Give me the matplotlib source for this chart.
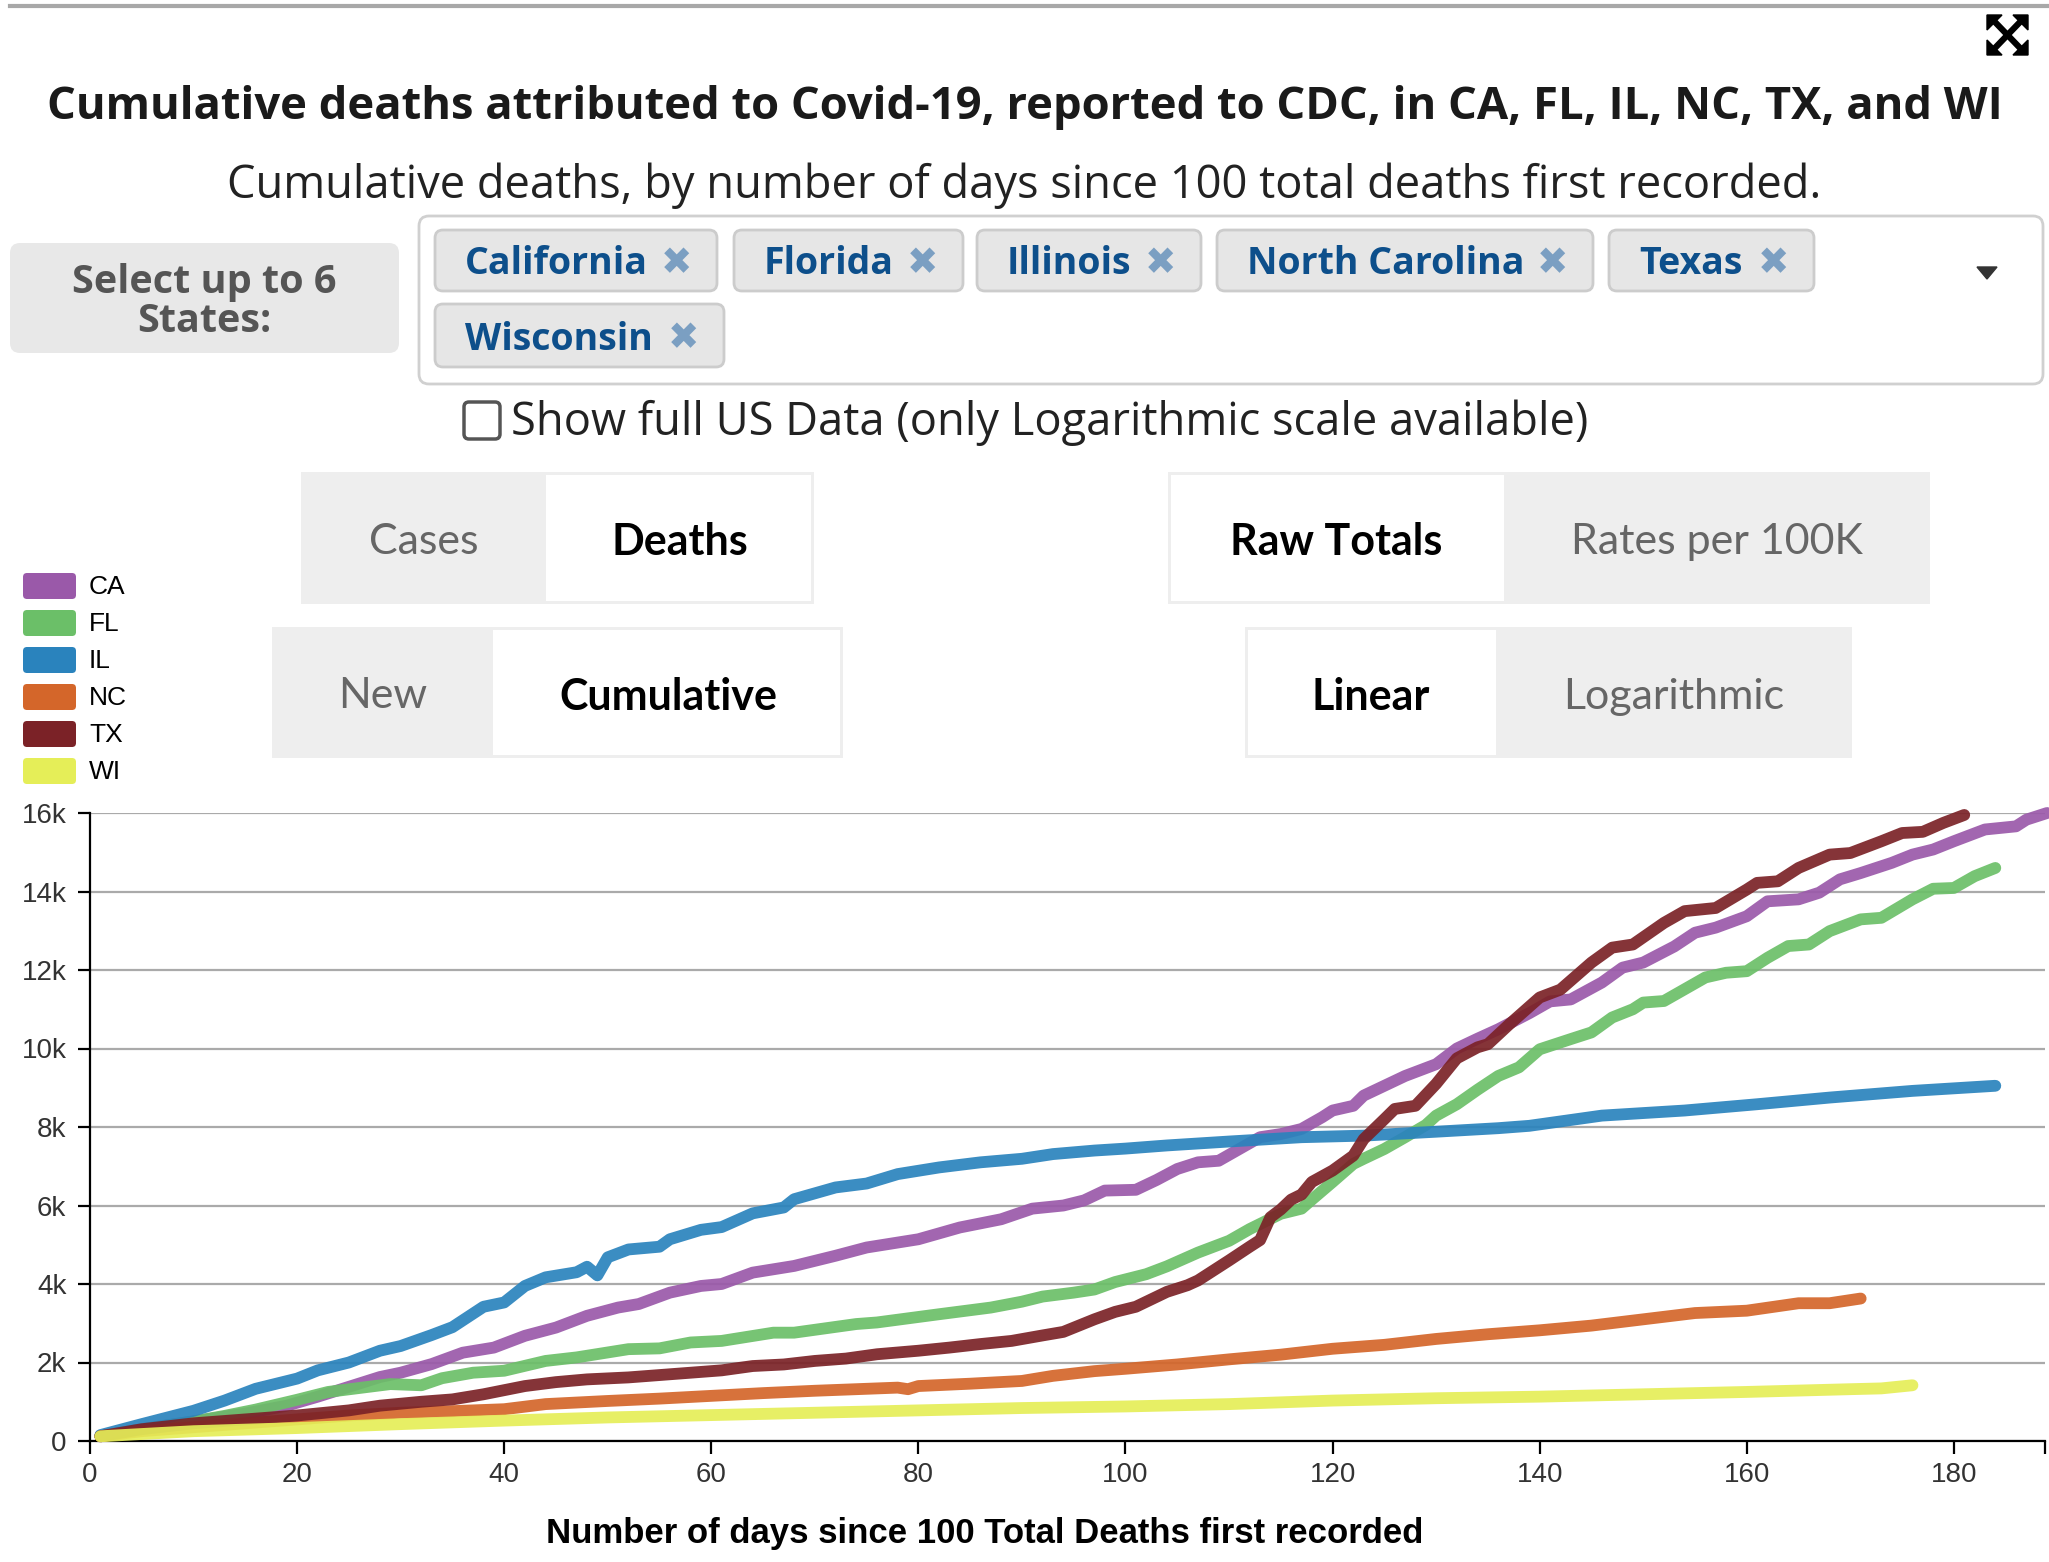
import matplotlib
matplotlib.use("Agg")
import matplotlib.pyplot as plt
from matplotlib.patches import FancyBboxPatch, Polygon, Rectangle
from matplotlib.ticker import FuncFormatter

# -----------------------------
# Data (cumulative deaths, thousands)
# -----------------------------
states = ["CA", "FL", "IL", "NC", "TX", "WI"]
state_names = ["California", "Florida", "Illinois", "North Carolina", "Texas", "Wisconsin"]
colors = ["#9a59a9", "#6bbf68", "#2a83bd", "#d4662a", "#7b2227", "#e5ee58"]

ca_days = [1, 5, 10, 15, 19, 22, 25, 28, 30, 33, 36, 39, 42, 45, 48, 51, 53, 56, 59, 61,
           64, 68, 72, 75, 80, 84, 88, 91, 94, 96, 98, 101, 103, 105, 107, 109, 111, 113, 115, 117,
           119, 120, 122, 123, 125, 127, 130, 132, 134, 136, 139, 141, 143, 146, 148, 150, 153, 155, 157, 160,
           162, 165, 167, 169, 171, 174, 176, 178, 180, 183, 186, 187, 189]
ca_k = [0.12, 0.3, 0.5, 0.7, 0.9, 1.13, 1.38, 1.63, 1.74, 1.96, 2.25, 2.38, 2.68, 2.89, 3.19, 3.4, 3.49, 3.78, 3.95, 4.0,
        4.29, 4.46, 4.72, 4.93, 5.14, 5.44, 5.65, 5.92, 6.0, 6.13, 6.38, 6.4, 6.65, 6.93, 7.1, 7.14, 7.44, 7.74, 7.82, 7.95,
        8.25, 8.42, 8.54, 8.8, 9.05, 9.3, 9.6, 10.0, 10.25, 10.49, 10.9, 11.2, 11.25, 11.68, 12.06, 12.19, 12.6, 12.95, 13.08, 13.37,
        13.75, 13.8, 13.97, 14.31, 14.47, 14.73, 14.94, 15.07, 15.28, 15.58, 15.66, 15.83, 16.0]

fl_days = [1, 5, 10, 13, 16, 20, 23, 26, 29, 32, 34, 37, 40, 44, 47, 52, 55, 58, 61, 66,
           68, 74, 76, 82, 87, 90, 92, 95, 97, 99, 102, 104, 107, 110, 112, 115, 117, 118, 120, 122,
           123, 125, 127, 129, 130, 132, 134, 136, 138, 140, 143, 145, 147, 149, 150, 152, 154, 156, 158, 160,
           162, 164, 166, 168, 171, 173, 176, 178, 180, 182, 184]
fl_k = [0.12, 0.3, 0.5, 0.64, 0.8, 1.05, 1.25, 1.35, 1.45, 1.42, 1.6, 1.74, 1.79, 2.04, 2.13, 2.34, 2.36, 2.51, 2.55, 2.76,
        2.76, 2.98, 3.02, 3.23, 3.4, 3.55, 3.68, 3.78, 3.86, 4.05, 4.25, 4.45, 4.8, 5.1, 5.4, 5.79, 5.92, 6.15, 6.6, 7.06,
        7.19, 7.44, 7.74, 8.05, 8.29, 8.58, 8.95, 9.3, 9.52, 9.98, 10.24, 10.41, 10.79, 11.0, 11.17, 11.21, 11.51, 11.81, 11.93, 11.97,
        12.31, 12.61, 12.65, 12.99, 13.29, 13.33, 13.8, 14.07, 14.09, 14.39, 14.6]

il_days = [1, 5, 10, 13, 16, 20, 22, 25, 28, 30, 33, 35, 38, 40, 42, 44, 47, 48, 49, 50,
           52, 55, 56, 59, 61, 64, 67, 68, 72, 75, 78, 82, 86, 90, 93, 97, 100, 104, 110, 117,
           123, 130, 136, 139, 146, 154, 161, 168, 176, 184]
il_k = [0.15, 0.43, 0.77, 1.03, 1.33, 1.59, 1.8, 2.0, 2.3, 2.42, 2.7, 2.9, 3.42, 3.53, 3.95, 4.17, 4.3, 4.44, 4.22, 4.68,
        4.88, 4.95, 5.14, 5.38, 5.45, 5.8, 5.95, 6.16, 6.46, 6.56, 6.8, 6.97, 7.1, 7.19, 7.31, 7.4, 7.45, 7.53, 7.63, 7.74,
        7.78, 7.88, 7.97, 8.03, 8.29, 8.42, 8.58, 8.75, 8.92, 9.05]

nc_days = [1, 5, 10, 15, 20, 25, 30, 35, 40, 44, 50, 55, 60, 65, 70, 75, 78, 79, 80, 85,
           90, 93, 97, 100, 105, 110, 115, 120, 125, 130, 135, 140, 145, 150, 155, 160, 165, 168, 171]
nc_k = [0.12, 0.25, 0.35, 0.45, 0.55, 0.65, 0.72, 0.76, 0.81, 0.94, 1.02, 1.08, 1.15, 1.22, 1.28, 1.33, 1.36, 1.32, 1.4, 1.46,
        1.53, 1.66, 1.78, 1.84, 1.95, 2.08, 2.2, 2.35, 2.45, 2.6, 2.72, 2.82, 2.94, 3.1, 3.26, 3.32, 3.51, 3.51, 3.63]

tx_days = [1, 5, 10, 15, 20, 25, 28, 32, 35, 38, 42, 45, 48, 52, 55, 58, 61, 64, 67, 70,
           73, 76, 80, 83, 86, 89, 92, 94, 97, 99, 101, 104, 106, 107, 109, 110, 112, 113, 114, 115,
           116, 117, 118, 120, 122, 123, 125, 126, 128, 130, 132, 134, 135, 137, 140, 142, 145, 147, 149, 152,
           154, 157, 160, 161, 163, 165, 168, 170, 173, 175, 177, 179, 181]
tx_k = [0.12, 0.3, 0.45, 0.55, 0.65, 0.78, 0.9, 1.0, 1.06, 1.19, 1.4, 1.5, 1.57, 1.62, 1.68, 1.74, 1.8, 1.91, 1.95, 2.04,
        2.1, 2.21, 2.3, 2.38, 2.47, 2.55, 2.69, 2.78, 3.1, 3.29, 3.42, 3.8, 3.97, 4.09, 4.43, 4.6, 4.95, 5.12, 5.7, 5.9,
        6.15, 6.28, 6.6, 6.89, 7.27, 7.69, 8.2, 8.46, 8.54, 9.1, 9.75, 10.03, 10.11, 10.6, 11.3, 11.5, 12.19, 12.57, 12.65, 13.2,
        13.5, 13.58, 14.05, 14.22, 14.26, 14.6, 14.94, 14.98, 15.28, 15.49, 15.52, 15.75, 15.95]

wi_days = [1, 10, 20, 30, 40, 50, 60, 70, 80, 90, 100, 110, 120, 130, 140, 150, 160, 170, 173, 176]
wi_k = [0.12, 0.25, 0.33, 0.43, 0.52, 0.6, 0.66, 0.72, 0.78, 0.84, 0.88, 0.94, 1.03, 1.09, 1.13, 1.19, 1.25, 1.32, 1.34, 1.42]

series_days = [ca_days, fl_days, il_days, nc_days, tx_days, wi_days]
series_k = [ca_k, fl_k, il_k, nc_k, tx_k, wi_k]

x_ticks = [0, 20, 40, 60, 80, 100, 120, 140, 160, 180]
y_ticks = [0, 2, 4, 6, 8, 10, 12, 14, 16]

title = "Cumulative deaths attributed to Covid-19, reported to CDC, in CA, FL, IL, NC, TX, and WI"
subtitle = "Cumulative deaths, by number of days since 100 total deaths first recorded."

# -----------------------------
# Figure + page background (pixel coordinates)
# -----------------------------
W, H = 2049, 1562
fig = plt.figure(figsize=(W / 100, H / 100), dpi=100)
bg = fig.add_axes([0, 0, 1, 1])
bg.set_xlim(0, W)
bg.set_ylim(H, 0)
bg.axis("off")


def box(x0, y0, x1, y1, face, edge="none", lw=0, r=6):
    bg.add_patch(FancyBboxPatch((x0, y0), x1 - x0, y1 - y0,
                                boxstyle=f"round,pad=0,rounding_size={r}",
                                facecolor=face, edgecolor=edge, linewidth=lw))


# top rule and expand icon
bg.plot([10, W], [6, 6], color="#a8a8a8", lw=3)
bg.plot([1994, 2021], [21, 49], color="black", lw=4.5, solid_capstyle="butt")
bg.plot([2021, 1994], [21, 49], color="black", lw=4.5, solid_capstyle="butt")
for cx, cy, sx, sy in [(1987, 15, 1, 1), (2028, 15, -1, 1), (1987, 55, 1, -1), (2028, 55, -1, -1)]:
    bg.add_patch(Polygon([(cx, cy), (cx + 15 * sx, cy), (cx, cy + 15 * sy)], closed=True, color="black"))

bg.text(W / 2, 108, title, ha="center", va="center", fontsize=32.7,
        fontfamily="Open Sans", fontweight="bold", color="#1a1a1a")
bg.text(W / 2, 186, subtitle, ha="center", va="center", fontsize=32.6,
        fontfamily="Open Sans", color="#222222")

# state selector
box(10, 243, 399, 353, "#e8e8e8", r=10)
bg.text(204, 283, "Select up to 6", ha="center", va="center", fontsize=28.5,
        fontfamily="Open Sans", fontweight="bold", color="#555555")
bg.text(204, 321, "States:", ha="center", va="center", fontsize=28.5,
        fontfamily="Open Sans", fontweight="bold", color="#555555")
box(419, 216, 2043, 384, "white", edge="#d0d0d0", lw=2, r=10)

tags = [(435, 717, 230, 291), (734, 963, 230, 291), (977, 1201, 230, 291),
        (1217, 1593, 230, 291), (1609, 1814, 230, 291), (435, 724, 304, 367)]
for name, (x0, x1, y0, y1) in zip(state_names, tags):
    box(x0, y0, x1, y1, "#e6e6e6", edge="#cccccc", lw=2, r=8)
    bg.text(x0 + 30, (y0 + y1) / 2 + 4, name, ha="left", va="center", fontsize=27,
            fontfamily="Open Sans", fontweight="bold", color="#0d4f8b")
    bg.text(x1 - 41, (y0 + y1) / 2 + 4, "\u2716", ha="center", va="center",
            fontsize=27, fontfamily="DejaVu Sans", color="#7b9fc2")
bg.add_patch(Polygon([(1977, 267), (1997, 267), (1987, 279)], closed=True, color="#333333"))

# checkbox
box(464, 402, 500, 439, "white", edge="#555555", lw=2.5, r=5)
bg.text(511, 423, "Show full US Data (only Logarithmic scale available)", ha="left", va="center",
        fontsize=32.6, fontfamily="Open Sans", color="#222222")

# toggle buttons: (x0, x1, y0, y1, split, selected side, left label, right label)
buttons = [
    (301, 814, 472, 604, 546, "right", "Cases", "Deaths"),
    (1168, 1930, 472, 604, 1504, "left", "Raw Totals", "Rates per 100K"),
    (272, 843, 627, 758, 493, "right", "New", "Cumulative"),
    (1245, 1852, 627, 758, 1496, "left", "Linear", "Logarithmic"),
]
for x0, x1, y0, y1, xs, sel, left_lab, right_lab in buttons:
    bg.add_patch(Rectangle((x0, y0), x1 - x0, y1 - y0, facecolor="#eeeeee", edgecolor="none"))
    if sel == "right":
        bg.add_patch(Rectangle((xs, y0 + 3), x1 - xs - 3, y1 - y0 - 6, facecolor="white", edgecolor="none"))
    else:
        bg.add_patch(Rectangle((x0 + 3, y0 + 3), xs - x0 - 3, y1 - y0 - 6, facecolor="white", edgecolor="none"))
    yc = (y0 + y1) / 2 + 4
    bg.text((x0 + xs) / 2, yc, left_lab, ha="center", va="center", fontsize=31, fontfamily="Lato",
            fontweight="bold" if sel == "left" else "normal",
            color="black" if sel == "left" else "#666666")
    bg.text((xs + x1) / 2, yc, right_lab, ha="center", va="center", fontsize=31, fontfamily="Lato",
            fontweight="bold" if sel == "right" else "normal",
            color="black" if sel == "right" else "#666666")

# legend
for i, (st, c) in enumerate(zip(states, colors)):
    yc = 586 + 37 * i
    box(23, yc - 13, 76, yc + 13, c, r=4)
    bg.text(89, yc + 1, st, ha="left", va="center", fontsize=19,
            fontfamily="Liberation Sans", color="black")

# -----------------------------
# Chart
# -----------------------------
x_max = 188.8
ax = fig.add_axes([90 / W, 1 - 1441 / H, (2045 - 90) / W, (1441 - 813) / H])
ax.set_facecolor("none")
for days, vals, c in zip(series_days, series_k, colors):
    ax.plot(days, vals, color=c, lw=8.5, alpha=0.92, solid_capstyle="round",
            solid_joinstyle="round", clip_on=False, zorder=3)

ax.set_xlim(0, x_max)
ax.set_ylim(0, 16)
ax.set_xticks(x_ticks + [x_max])
ax.set_xticklabels([str(t) for t in x_ticks] + [""])
ax.set_yticks(y_ticks)
ax.yaxis.set_major_formatter(FuncFormatter(lambda v, p: "0" if v == 0 else f"{v:g}k"))
ax.grid(axis="y", color="#aaaaaa", lw=1.6)
ax.set_axisbelow(True)
for s in ["top", "right"]:
    ax.spines[s].set_visible(False)
for s in ["left", "bottom"]:
    ax.spines[s].set_linewidth(1.6)
    ax.spines[s].set_color("black")
ax.tick_params(length=9, width=1.6, color="black", labelsize=20, labelcolor="#333333", pad=8)
ax.tick_params(axis="x", pad=6)
for lab in ax.get_xticklabels() + ax.get_yticklabels():
    lab.set_fontfamily("Liberation Sans")

fig.text(985 / W, 1 - 1534 / H, "Number of days since 100 Total Deaths first recorded",
         ha="center", va="center", fontsize=25, fontweight="bold", fontfamily="Liberation Sans")

fig.savefig("out.png", dpi=100, facecolor="white")
